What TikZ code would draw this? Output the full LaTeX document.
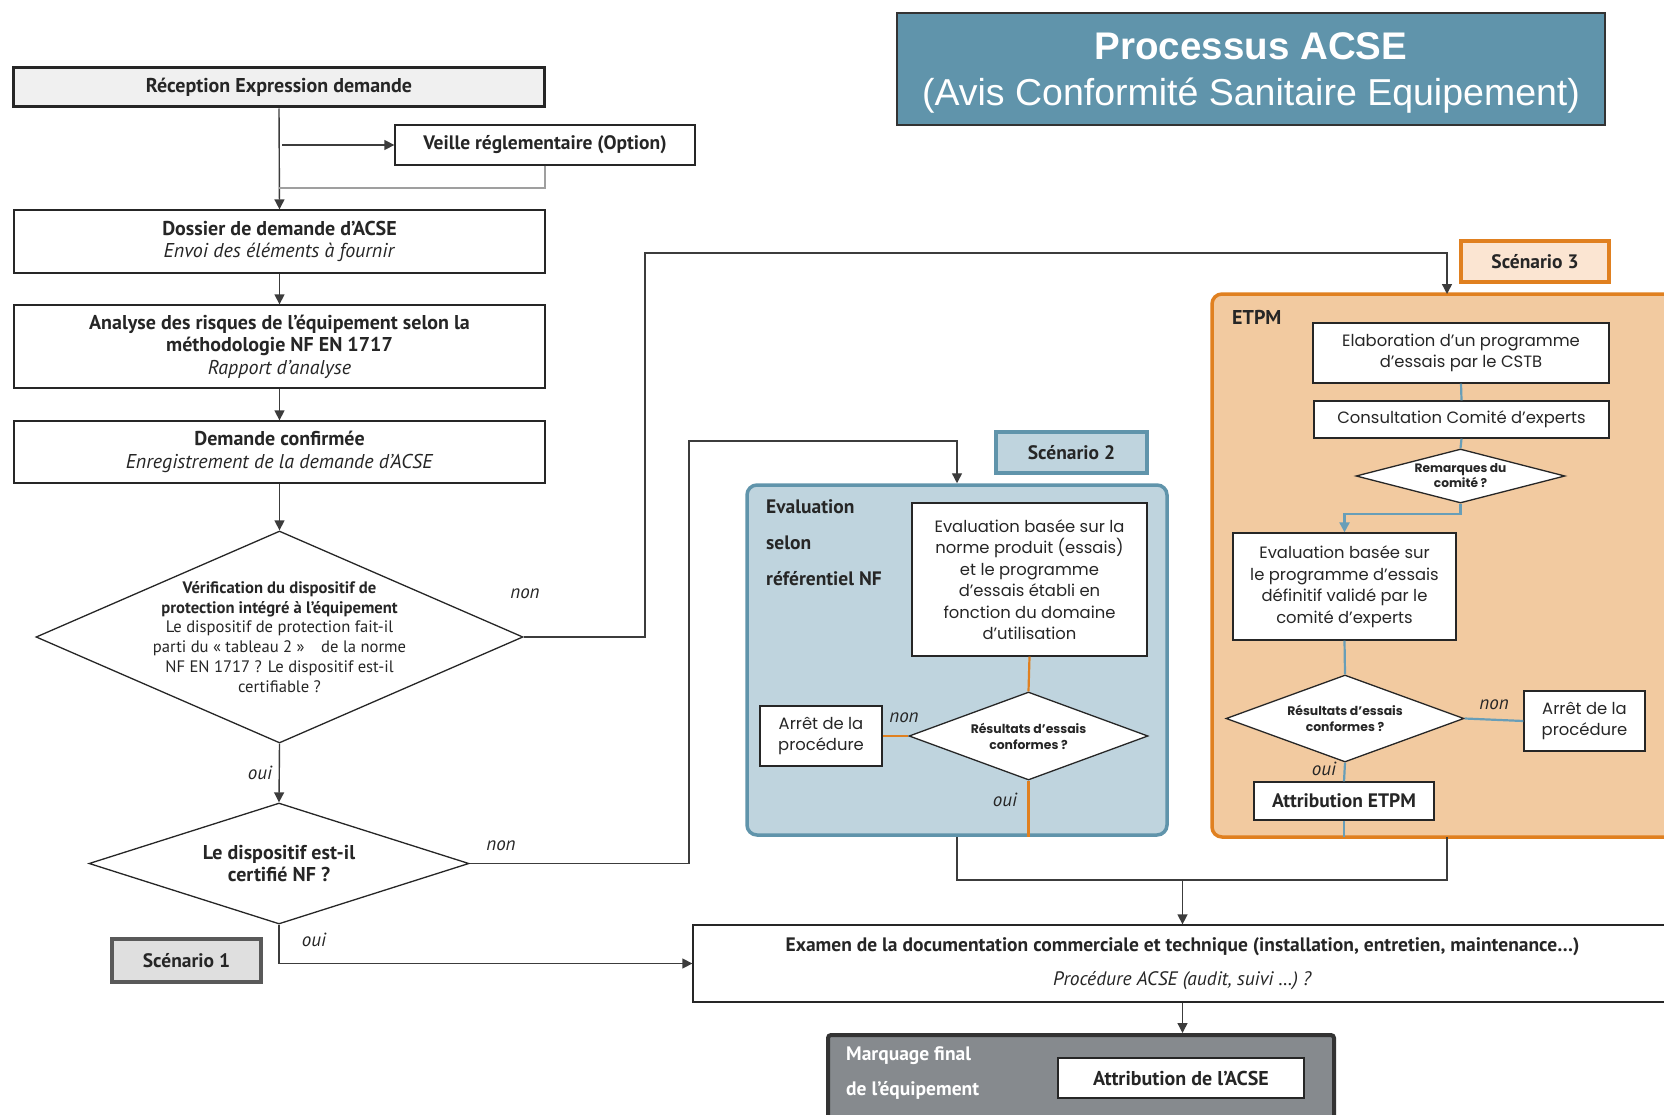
\documentclass[tikz,border=0pt]{standalone}
\usepackage{fontspec}
\setmainfont{PT Sans}
\newfontfamily\gothic{Poppins}
\newfontfamily\headfont{Liberation Sans}
\usetikzlibrary{positioning,calc,arrows.meta,shapes.geometric}

\definecolor{acseblue}{RGB}{96,148,171}
\definecolor{paleblue}{RGB}{191,212,222}
\definecolor{linkblue}{RGB}{104,158,184}
\definecolor{acseorange}{RGB}{224,128,32}
\definecolor{peach}{RGB}{242,202,160}
\definecolor{palepeach}{RGB}{251,229,210}
\definecolor{slate}{RGB}{134,138,142}
\definecolor{linegray}{RGB}{60,60,60}
\definecolor{txtgray}{RGB}{38,38,38}

\begin{document}
\begin{tikzpicture}[x=1pt, y=-1pt,
	every node/.style={text=txtgray},
	box/.style={draw=black!85, fill=white, line width=1.3pt, align=center, inner sep=2pt},
	stepbox/.style={box, minimum width=531, font=\fontsize{20}{22.5}\selectfont},
	wide/.style={box, font=\gothic\fontsize{16.4}{21.5}\selectfont},
	tag/.style={draw, line width=4pt, align=center, font=\fontsize{19.5}{22}\selectfont\bfseries},
	dia/.style={diamond, draw=black!85, fill=white, line width=1.3pt, inner sep=0pt},
	lbl/.style={font=\fontsize{19}{19}\selectfont\itshape},
	conn/.style={draw=linegray, line width=1.4pt},
	arr/.style={conn, -{Triangle[length=10pt, width=10pt]}},
	olink/.style={draw=acseorange, line width=2.2pt},
	blink/.style={draw=linkblue, line width=2.2pt},
	frame/.style={draw, line width=3.5pt, rounded corners=10pt}]

	\useasboundingbox (0,0) rectangle (1664,1115);
	\fill[white] (0,0) rectangle (1664,1115);
	\clip (0,0) rectangle (1664,1115);

	% title
	\node[draw=black!80, line width=1.2pt, fill=acseblue, minimum width=708, minimum height=112,
		label={[align=center, text=white, yshift=-4pt, font=\headfont\fontsize{37.5}{46}\selectfont]center:{\fontsize{38.5}{46}\selectfont\bfseries Processus ACSE}\\(Avis Conformité Sanitaire Equipement)}] (title) at (1251,69) {};

	% main column
	\node[stepbox, line width=3pt, fill=gray!12, minimum height=39] (recep) at (279,87.5) {\textbf{Réception Expression demande}};
	\node[box, minimum width=300, minimum height=40, font=\fontsize{19.5}{22}\selectfont\bfseries] (veille) at (545,145) {Veille réglementaire (Option)};
	\node[stepbox, minimum height=63] (dossier) at (279.5,241.5) {\textbf{Dossier de demande d’ACSE}\\\textit{Envoi des éléments à fournir}};
	\node[stepbox, minimum height=83] (analyse) at (279.5,346.5) {\textbf{Analyse des risques de l’équipement selon la}\\\textbf{méthodologie NF EN 1717}\\\textit{Rapport d’analyse}};
	\node[stepbox, minimum height=62] (confirm) at (279.5,452) {\textbf{Demande confirmée}\\\textit{Enregistrement de la demande d’ACSE}};

	\node[dia, minimum width=487, minimum height=212,
		label={[align=center, font=\fontsize{16.6}{19.8}\selectfont]center:\textbf{Vérification du dispositif de}\\\textbf{protection intégré à l’équipement}\\Le dispositif de protection fait-il\\parti du « tableau 2 »\quad de la norme\\NF EN 1717 ? Le dispositif est-il\\certifiable ?}] (verif) at (279.5,637) {};
	\node[dia, minimum width=380, minimum height=121,
		label={[align=center, font=\fontsize{20}{22.5}\selectfont\bfseries]center:Le dispositif est-il\\certifié NF ?}] (certif) at (279,863.5) {};
	\node[tag, draw=black!65, fill=gray!25, minimum width=149, minimum height=43] (scen1) at (186.5,960.5) {Scénario 1};

	% scenario 2
	\node[tag, draw=acseblue, fill=paleblue, minimum width=151, minimum height=41] (scen2) at (1071.5,452.5) {Scénario 2};
	\node[frame, draw=acseblue, fill=paleblue, minimum width=420, minimum height=350] (cont2) at (957,660) {};
	\node[anchor=west, align=left, inner sep=0pt, font=\fontsize{19.5}{36}\selectfont\bfseries] (nflabel) at (766,543) {Evaluation\\selon\\référentiel NF};
	\node[wide, minimum width=235, minimum height=153] (norme) at (1029.5,579.5) {Evaluation basée sur la\\norme produit (essais)\\et le programme\\d’essais établi en\\fonction du domaine\\d’utilisation};
	\node[dia, minimum width=239, minimum height=88,
		label={[align=center, font=\gothic\fontsize{12.4}{16}\selectfont\bfseries]center:Résultats d’essais\\conformes ?}] (res2) at (1028.5,736) {};
	\node[wide, minimum width=122, minimum height=60] (stop2) at (821,736) {Arrêt de la\\procédure};

	% scenario 3
	\node[tag, draw=acseorange, fill=palepeach, minimum width=148, minimum height=41] (scen3) at (1535,261.5) {Scénario 3};
	\node[frame, draw=acseorange, fill=peach, minimum width=488, minimum height=543] (cont3) at (1456,565.5) {};
	\node[anchor=west, inner sep=0pt, font=\fontsize{20}{22}\selectfont\bfseries] (etpm) at (1232,317) {ETPM};
	\node[wide, minimum width=296, minimum height=60] (elab) at (1461,353) {Elaboration d’un programme\\d’essais par le CSTB};
	\node[wide, minimum width=295, minimum height=37] (consult) at (1461.5,419.5) {Consultation Comité d’experts};
	\node[dia, minimum width=209, minimum height=54,
		label={[align=center, font=\gothic\fontsize{12.2}{15}\selectfont\bfseries]center:Remarques du\\comité ?}] (remarks) at (1460.5,476) {};
	\node[wide, minimum width=223, minimum height=107] (evalfin) at (1344.5,586.5) {Evaluation basée sur\\le programme d’essais\\définitif validé par le\\comité d’experts};
	\node[dia, minimum width=238, minimum height=87,
		label={[align=center, font=\gothic\fontsize{12.4}{16}\selectfont\bfseries]center:Résultats d’essais\\conformes ?}] (res3) at (1345,718.5) {};
	\node[wide, minimum width=121, minimum height=60] (stop3) at (1584.5,721) {Arrêt de la\\procédure};
	\node[box, minimum width=180, minimum height=38, font=\fontsize{19.5}{22}\selectfont\bfseries] (attretpm) at (1344,801) {Attribution ETPM};

	% common end
	\node[box, minimum width=979, minimum height=77, font=\fontsize{19.5}{22}\selectfont] (examen) at (1182.5,963.5)
		{\textbf{Examen de la documentation commerciale et technique (installation, entretien, maintenance…)}\\[12pt]\textit{Procédure ACSE (audit, suivi …) ?}};
	\node[draw=black!80, line width=4pt, rounded corners=3pt, fill=slate, minimum width=506, minimum height=93] (marq) at (1081,1081.5) {};
	\node[anchor=west, align=left, inner sep=0pt, text=white, font=\fontsize{19.5}{35}\selectfont\bfseries] (marqlabel) at (846,1073) {Marquage final\\de l’équipement};
	\node[box, minimum width=246, minimum height=40, font=\fontsize{20}{22}\selectfont\bfseries] (attracse) at (1181,1078) {Attribution de l’ACSE};

	\coordinate (in3) at (1447,294);
	\coordinate (out3) at (1447,837);
	\coordinate (merge) at (1447,880);

	% connectors, main column
	\draw[arr] (recep.south) -- (dossier.north);
	\draw[arr] (recep.south |- veille.west) ++(3,0) -- (veille.west);
	\draw[conn, draw=gray!75] (veille.south) |- (recep.south |- 0,188);
	\draw[arr] (dossier.south) -- (analyse.north);
	\draw[arr] (analyse.south) -- (confirm.north);
	\draw[arr] (confirm.south) -- (verif.north);
	\draw[arr] (verif.south) -- (certif.north);
	\draw[arr] (verif.east) -| (645,253) -| (in3);
	\draw[arr] (certif.east) -| (689,441) -| (cont2.north);
	\draw[arr] (certif.south) |- (examen.west);
	\draw[conn] (cont2.south) |- (merge) -- (out3);
	\draw[arr] (examen.north |- merge) -- (examen.north);
	\draw[arr] (examen.south) -- (examen.south |- marq.north);

	% inside scenario 2
	\draw[olink] (norme.south) -- (res2.north);
	\draw[olink] (res2.west) -- (stop2.east);
	\draw[olink] (res2.south) -- (res2.south |- cont2.south);

	% inside scenario 3
	\draw[blink] (elab.south) -- (consult.north);
	\draw[blink] (consult.south) -- (remarks.north);
	\draw[blink, -{Triangle[length=10pt, width=10pt]}] (remarks.south) -- ++(0,10) -| (evalfin.north);
	\draw[blink] (evalfin.south) -- (res3.north);
	\draw[blink] (res3.east) -- (stop3.west);
	\draw[blink] (res3.south) -- (attretpm.north);
	\draw[blink] (attretpm.south) -- (attretpm.south |- out3);

	% oui / non
	\node[lbl] (non1) at (525,594) {non};
	\node[lbl] (oui1) at (260,773) {oui};
	\node[lbl] (non2) at (501,846) {non};
	\node[lbl] (oui2) at (314,940) {oui};
	\node[lbl] (non3) at (904,718) {non};
	\node[lbl] (oui3) at (1005,800) {oui};
	\node[lbl] (non4) at (1494,705) {non};
	\node[lbl] (oui4) at (1324,769) {oui};
\end{tikzpicture}
\end{document}
